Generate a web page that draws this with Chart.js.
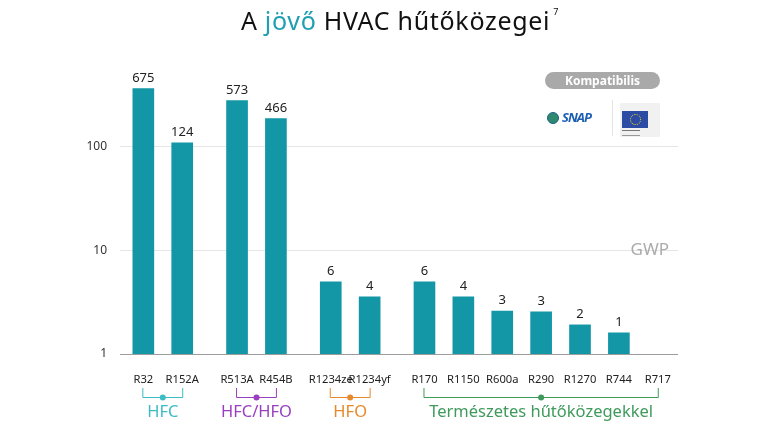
<!DOCTYPE html>
<html>
<head>
<meta charset="utf-8">
<script src="https://cdn.jsdelivr.net/npm/chart.js@4.4.1/dist/chart.umd.min.js"></script>
<style>
    body { margin: 0; background: #fff; font-family: "Noto Sans", sans-serif; }
    #wrap { position: relative; width: 768px; height: 431px; }
    #title {
        position: absolute; left: 0; top: 3px; width: 800px; text-align: center;
        font-size: 25px; color: #111; letter-spacing: 0.7px;
    }
    #title .hl { color: #1f9fb1; }
    #title sup { font-size: 9px; position: relative; top: -6px; margin-left: 3px; }
    #pill {
        position: absolute; left: 545px; top: 72px; width: 115px; height: 17px; line-height: 17px;
        background: #a9a9a9; color: #fff; border-radius: 9px; text-align: center;
        font-size: 12px; font-weight: bold;
    }
    #snap { position: absolute; left: 547px; top: 108px; font-size: 13px; font-weight: bold; font-style: italic; color: #1d5fb5; letter-spacing: -1px; }
    #snap .dot { display: inline-block; width: 12px; height: 12px; border-radius: 50%; background: #2d8a6e; border: 1px solid #1d5f8a; box-sizing: border-box; vertical-align: -2px; margin-right: 3px; }
    #sep { position: absolute; left: 612px; top: 100px; width: 1px; height: 36px; background: #e3e3e3; }
    #eu { position: absolute; left: 620px; top: 103px; width: 40px; height: 34px; background: #f1f1f1; }
    #eu .flag { position: absolute; left: 2px; top: 8px; width: 26px; height: 17px; background: #2b4ba5; }
    #eu .flag i { position: absolute; left: 8px; top: 3px; width: 9px; height: 9px; border: 1px dotted #f1d51b; border-radius: 50%; }
    #eu .txt { position: absolute; left: 2px; top: 27px; width: 18px; height: 4px; border-top: 1px solid #777; border-bottom: 1px solid #999; }
    canvas { position: absolute; left: 0; top: 0; }
</style>
</head>
<body>
<div id="wrap">
    <canvas id="gwpChart" width="768" height="431"></canvas>
    <div id="title">A <span class="hl">jövő</span> HVAC hűtőközegei<sup>7</sup></div>
    <div id="pill">Kompatibilis</div>
    <div id="snap"><span class="dot"></span>SNAP</div>
    <div id="sep"></div>
    <div id="eu"><div class="flag"><i></i></div><div class="txt"></div></div>
</div>
<script>
const categories = ["R32", "R152A", "R513A", "R454B", "R1234ze", "R1234yf", "R170", "R1150", "R600a", "R290", "R1270", "R744", "R717"];
// bar heights as read on the log axis (the source draws them off its own labels)
const barValues = [363, 109, 278, 186, 4.96, 3.55, 4.96, 3.55, 2.6, 2.55, 1.91, 1.6, null];
const gwpLabels = ["675", "124", "573", "466", "6", "4", "6", "4", "3", "3", "2", "1", ""];
const groupNames = ["HFC", "HFC/HFO", "HFO", "Természetes hűtőközegekkel"];
const groupSizes = [2, 2, 2, 7];
const groupColors = ["#3dbcc6", "#9a3fbf", "#e78a2c", "#3f9a5c"];
const yTicks = [1, 10, 100];

const BAR_COLOR = "#1396a5";
const GROUP_GAP = 0.41;

// x position of each category: index plus extra gap per group
const xPos = [];
groupSizes.forEach((size, g) => {
    for (let k = 0; k < size; k++) {
        xPos.push(xPos.length + g * GROUP_GAP);
    }
});

const points = categories.map((c, i) => ({ x: xPos[i], y: barValues[i] }));

const annotate = {
    id: "annotate",
    afterDatasetsDraw(chart) {
        const { ctx } = chart;
        const meta = chart.getDatasetMeta(0);
        ctx.save();
        ctx.fillStyle = "#222";
        ctx.font = "13px 'Noto Sans'";
        ctx.textAlign = "center";
        ctx.textBaseline = "bottom";
        meta.data.forEach((el, i) => {
            if (!gwpLabels[i] || barValues[i] == null) return;
            ctx.fillText(gwpLabels[i], el.x, el.y - 4);
        });

        // GWP axis caption
        ctx.fillStyle = "#ababab";
        ctx.font = "17px 'Noto Sans'";
        ctx.textAlign = "right";
        ctx.textBaseline = "middle";
        ctx.fillText("GWP", 669, 250);

        // group brackets
        const xs = chart.scales.x;
        let start = 0;
        groupSizes.forEach((size, g) => {
            const x1 = xs.getPixelForValue(xPos[start]);
            const x2 = xs.getPixelForValue(xPos[start + size - 1]);
            const mid = (x1 + x2) / 2;
            ctx.strokeStyle = groupColors[g];
            ctx.fillStyle = groupColors[g];
            ctx.lineWidth = 1;
            ctx.beginPath();
            ctx.moveTo(x1 - 0.5, 388);
            ctx.lineTo(x1 - 0.5, 397.5);
            ctx.lineTo(x2 + 0.5, 397.5);
            ctx.lineTo(x2 + 0.5, 388);
            ctx.stroke();
            ctx.beginPath();
            ctx.arc(mid, 397.5, 3, 0, Math.PI * 2);
            ctx.fill();
            ctx.font = "16.5px 'Noto Sans'";
            ctx.textAlign = "center";
            ctx.textBaseline = "middle";
            ctx.fillText(groupNames[g], mid, 412);
            start += size;
        });
        ctx.restore();
    },
};

new Chart(document.getElementById("gwpChart"), {
    type: "bar",
    data: {
        datasets: [{
            data: points,
            backgroundColor: BAR_COLOR,
            barThickness: 21,
        }],
    },
    options: {
        responsive: false,
        animation: false,
        layout: { padding: { top: 59, right: 90, left: 0, bottom: 0 } },
        plugins: {
            legend: { display: false },
            tooltip: { enabled: false },
        },
        scales: {
            x: {
                type: "linear",
                offset: false,
                min: -0.6,
                max: 13.75,
                afterBuildTicks: (scale) => {
                    scale.ticks = xPos.map((v) => ({ value: v }));
                },
                afterFit: (scale) => { scale.height = 77; },
                grid: { display: false },
                border: { display: false },
                ticks: {
                    autoSkip: false,
                    maxRotation: 0,
                    padding: 11,
                    color: "#222",
                    font: { family: "Noto Sans", size: 11.2 },
                    callback: (value, index) => categories[index],
                },
            },
            y: {
                type: "logarithmic",
                min: 1,
                max: 700,
                afterBuildTicks: (scale) => {
                    scale.ticks = yTicks.map((v) => ({ value: v }));
                },
                afterFit: (scale) => { scale.width = 120; },
                grid: {
                    drawTicks: false,
                    color: (ctx) => (ctx.tick && ctx.tick.value === 1 ? "#9c9c9c" : "#e6e6e6"),
                },
                border: { display: false },
                ticks: {
                    padding: 13,
                    color: "#333",
                    font: { family: "Noto Sans", size: 12 },
                    callback: (value) => String(value),
                },
            },
        },
    },
    plugins: [annotate],
});
</script>
</body>
</html>
